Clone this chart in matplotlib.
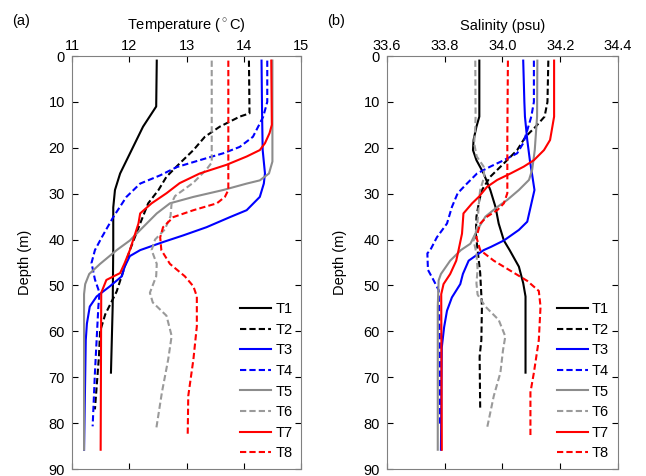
import numpy as np
import matplotlib
matplotlib.use('Agg')
import matplotlib.pyplot as plt

plt.rcParams['font.family'] = ['Liberation Sans', 'DejaVu Sans']
plt.rcParams['mathtext.fontset'] = 'custom'
plt.rcParams['mathtext.rm'] = 'Liberation Sans'
plt.rcParams['font.size'] = 10

labels = ['T1', 'T2', 'T3', 'T4', 'T5', 'T6', 'T7', 'T8']
colors = ['black', 'black', '#0000ff', '#0000ff', '#8c8c8c', '#9a9a9a', '#ff0000', '#ff0000']
dashed = [False, True, False, True, False, True, False, True]

# temperature profiles: (depth list, temperature list)
t1_d = [1, 11, 15.4, 20.5, 25.6, 29.2, 33, 42, 54.6, 69]
t1_t = [12.48, 12.47, 12.24, 12.04, 11.84, 11.75, 11.72, 11.72, 11.71, 11.68]
t2_d = [1, 12.5, 13.2, 15.4, 17.6, 20.5, 23.4, 26.3, 29.2, 32.1, 36.5, 42.3, 45.9, 51.3, 56.3, 60, 65.5, 77]
t2_t = [14.09, 14.10, 13.93, 13.58, 13.32, 13.12, 12.88, 12.65, 12.51, 12.33, 12.19, 12.01, 11.92, 11.78, 11.58, 11.49, 11.47, 11.40]
t3_d = [1, 13, 20.5, 25.6, 27.8, 30.7, 33.6, 35.1, 37.3, 39.1, 40.5, 42.3, 43.6, 45.9, 48, 50.2, 52.4, 54.6, 58.3, 61.9, 85.8]
t3_t = [14.31, 14.32, 14.33, 14.37, 14.35, 14.28, 14.05, 13.76, 13.35, 12.94, 12.60, 12.19, 12.01, 11.92, 11.87, 11.66, 11.43, 11.31, 11.26, 11.24, 11.21]
t4_d = [1, 10, 13.2, 14.7, 17.6, 19.8, 21.2, 22.7, 24.2, 26, 27.8, 30.7, 35.1, 39.5, 42.3, 45.1, 48.7, 51.6, 54.6, 69, 80.7]
t4_t = [14.41, 14.41, 14.34, 14.28, 14.16, 13.93, 13.64, 13.23, 12.83, 12.54, 12.19, 11.95, 11.72, 11.52, 11.40, 11.34, 11.40, 11.48, 11.46, 11.40, 11.36]
t5_d = [1, 23, 25.6, 27.1, 27.8, 29.2, 30.7, 32.1, 34.3, 37.3, 40.2, 42.3, 45.3, 47.5, 49.7, 51.9, 85.8]
t5_t = [14.50, 14.50, 14.44, 14.28, 14.05, 13.64, 13.12, 12.71, 12.48, 12.24, 12.01, 11.78, 11.49, 11.30, 11.23, 11.21, 11.21]
t6_d = [1, 23.2, 24.7, 27.6, 30.5, 32, 34.9, 37.8, 40, 42.3, 45.3, 48, 51.6, 53.7, 56.6, 61, 66.1, 73.3, 81.3]
t6_t = [13.44, 13.44, 13.35, 13.12, 12.80, 12.74, 12.72, 12.62, 12.45, 12.39, 12.48, 12.47, 12.36, 12.41, 12.65, 12.74, 12.68, 12.57, 12.47]
t7_d = [1, 15, 16.8, 19.0, 20.5, 21.9, 23.7, 25.6, 27.7, 29.9, 32.1, 34.3, 36.5, 40, 42.3, 45.1, 47.3, 48.8, 51.6, 85.8]
t7_t = [14.48, 14.49, 14.45, 14.37, 14.28, 14.05, 13.70, 13.23, 12.88, 12.65, 12.39, 12.19, 12.16, 12.07, 12.01, 11.92, 11.84, 11.60, 11.51, 11.50]
t8_d = [1, 29.2, 30.7, 32.1, 33.6, 35.1, 37.3, 39.5, 42.3, 45.3, 48, 50.2, 52.4, 58.9, 66.1, 74.1, 82.9]
t8_t = [13.73, 13.73, 13.67, 13.53, 13.12, 12.77, 12.59, 12.54, 12.56, 12.71, 12.97, 13.12, 13.18, 13.18, 13.12, 13.03, 13.02]

# salinity profiles
s1_d = [1, 13.2, 15.4, 18.3, 20.5, 22.7, 25.6, 29.2, 32.9, 36.5, 40.2, 42.3, 45.9, 49.5, 52.4, 69]
s1_s = [33.92, 33.92, 33.91, 33.90, 33.898, 33.91, 33.935, 33.958, 33.976, 33.987, 34.005, 34.025, 34.057, 34.072, 34.08, 34.08]
s2_d = [1, 10, 13.2, 15.4, 17.6, 20.5, 23.4, 26.3, 29.2, 31.4, 35, 38.7, 42.3, 47.3, 54.6, 61.9, 65.5, 77]
s2_s = [34.159, 34.156, 34.146, 34.115, 34.08, 34.051, 34.005, 33.958, 33.929, 33.92, 33.91, 33.908, 33.914, 33.923, 33.929, 33.927, 33.921, 33.923]
s3_d = [1, 10, 13.2, 18.3, 22.7, 26.3, 29.2, 31.4, 36.1, 37.9, 40.2, 41.6, 42.3, 44.6, 47.5, 49.7, 52.6, 55.5, 59.1, 63.5, 85.8]
s3_s = [34.072, 34.076, 34.078, 34.086, 34.095, 34.104, 34.111, 34.103, 34.086, 34.057, 34.005, 33.96, 33.935, 33.883, 33.863, 33.854, 33.825, 33.808, 33.798, 33.79, 33.787]
s4_d = [1, 10, 13.2, 16.2, 19.0, 21.2, 22.7, 24.1, 25.6, 27.8, 29.9, 32.9, 36.5, 39.5, 42.3, 43, 46.6, 48.8, 51, 61.9, 80.7]
s4_s = [34.109, 34.109, 34.10, 34.086, 34.072, 34.051, 34.005, 33.958, 33.912, 33.877, 33.845, 33.825, 33.808, 33.773, 33.75, 33.74, 33.742, 33.761, 33.779, 33.783, 33.784]
s5_d = [1, 13.2, 20.5, 24.8, 27, 29.2, 31.4, 32.9, 35, 38, 40.9, 42.3, 44.6, 47.5, 48.9, 54.6, 85.8]
s5_s = [34.121, 34.12, 34.112, 34.103, 34.092, 34.057, 34.016, 33.982, 33.941, 33.912, 33.889, 33.856, 33.819, 33.787, 33.779, 33.776, 33.776]
s6_d = [1, 13.2, 15.4, 19, 21.9, 24.1, 26.3, 29.2, 30.7, 33.6, 37.3, 40.2, 43, 46.6, 49.5, 52, 54.6, 57.5, 61.1, 64.1, 69, 74.1, 81]
s6_s = [33.906, 33.907, 33.906, 33.902, 33.911, 33.935, 33.937, 33.923, 33.92, 33.917, 33.912, 33.90, 33.91, 33.914, 33.91, 33.914, 33.941, 33.987, 34.01, 34.002, 33.993, 33.97, 33.947]
s7_d = [1, 13.2, 15.4, 18.3, 20.5, 22.7, 24.1, 25.6, 27, 28.5, 30.7, 32.1, 34.3, 38.7, 42.3, 44.6, 47.5, 49.7, 51.9, 85.8]
s7_s = [34.179, 34.179, 34.173, 34.165, 34.144, 34.109, 34.074, 34.028, 33.982, 33.947, 33.918, 33.895, 33.865, 33.86, 33.848, 33.84, 33.819, 33.796, 33.788, 33.79]
s8_d = [1, 17.6, 29.9, 32.1, 33.6, 35, 36.5, 39.5, 42.3, 44.6, 46.8, 49, 51.2, 54.6, 61.9, 69, 73.3, 82.9]
s8_s = [34.019, 34.017, 34.017, 34.005, 33.982, 33.947, 33.923, 33.91, 33.923, 33.97, 34.028, 34.086, 34.126, 34.132, 34.126, 34.109, 34.097, 34.097]

temp = [(t1_t, t1_d), (t2_t, t2_d), (t3_t, t3_d), (t4_t, t4_d),
        (t5_t, t5_d), (t6_t, t6_d), (t7_t, t7_d), (t8_t, t8_d)]
sal = [(s1_s, s1_d), (s2_s, s2_d), (s3_s, s3_d), (s4_s, s4_d),
       (s5_s, s5_d), (s6_s, s6_d), (s7_s, s7_d), (s8_s, s8_d)]

fig = plt.figure(figsize=(6.46, 4.76), dpi=100)
ax1 = fig.add_axes([0.1115, 0.0147, 0.3545, 0.8676])
ax2 = fig.add_axes([0.599, 0.0147, 0.3575, 0.8676])


def draw(ax, profiles, xlim, xticks, xticklabels, xlabel, tag):
    for (x, d), lab, c, ds in zip(profiles, labels, colors, dashed):
        ls = (0, (3, 1.5)) if ds else '-'
        ax.plot(x, d, color=c, lw=1.5, ls=ls, label=lab)
    ax.set_xlim(*xlim)
    ax.set_ylim(90, 0)
    ax.set_xticks(xticks)
    ax.set_xticklabels(xticklabels)
    ax.set_yticks(np.arange(0, 91, 10))
    ax.xaxis.tick_top()
    ax.xaxis.set_label_position('top')
    ax.tick_params(direction='in', top=True, bottom=True, left=True, right=True,
                   labelsize=10.5, length=4)
    ax.tick_params(axis='x', pad=2)
    ax.tick_params(axis='y', pad=5)
    ax.set_xlabel(xlabel, fontsize=10.5, labelpad=7)
    ax.set_ylabel('Depth (m)', fontsize=10.5, labelpad=12)
    for s in ax.spines.values():
        s.set_color('#808080')
    ax.legend(loc='lower right', frameon=False, fontsize=10.5, handlelength=2.1,
              labelspacing=0.45, handletextpad=0.3, borderaxespad=0.2,
              bbox_to_anchor=(1.0, 0.0))
    ax.text(-0.26, 1.085, tag, transform=ax.transAxes, fontsize=10.5, ha='left', va='center')


draw(ax1, temp, (11, 15), [11, 12, 13, 14, 15], ['11', '12', '13', '14', '15'],
     r'Temperature ($^\circ$C)', '(a)')
draw(ax2, sal, (33.6, 34.4), [33.6, 33.8, 34.0, 34.2, 34.4],
     ['33.6', '33.8', '34.0', '34.2', '34.4'], 'Salinity (psu)', '(b)')

fig.savefig('out.png', dpi=100)
